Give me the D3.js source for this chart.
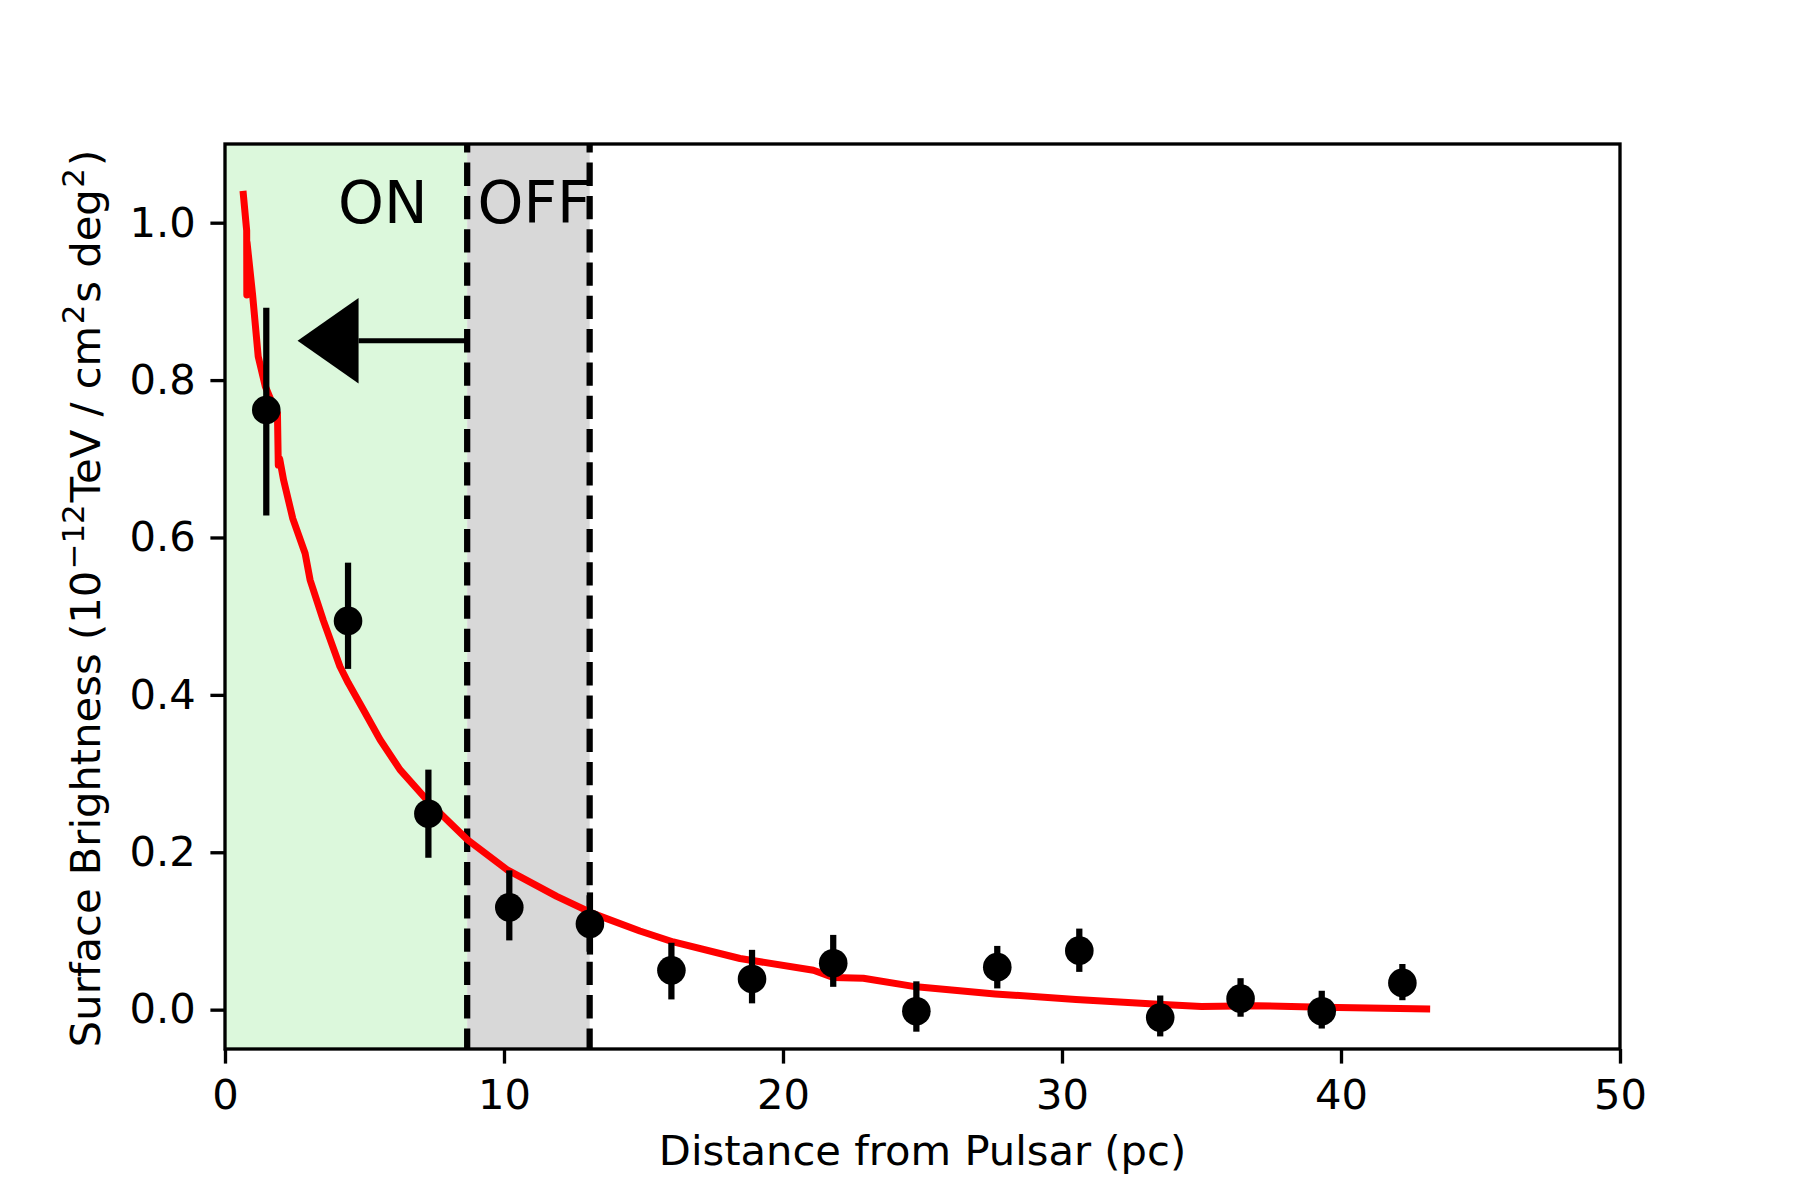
<!DOCTYPE html>
<html><head><meta charset="utf-8">
<script src="https://cdn.jsdelivr.net/npm/d3@7"></script>
<style>body{margin:0;background:#fff} text{font-family:"DejaVu Sans",sans-serif}</style>
</head><body><svg id="c" width="1800" height="1200" xmlns="http://www.w3.org/2000/svg"></svg>
<script>
// ---- data ----
const xTicks = [0, 10, 20, 30, 40, 50];
const yTicks = [0.0, 0.2, 0.4, 0.6, 0.8, 1.0];
const xDomain = [0, 50];
const yDomain = [-0.05, 1.1];

const ptX   = [1.48, 4.41, 7.29, 10.19, 13.08, 16.0, 18.89, 21.8, 24.78, 27.68, 30.62, 33.52, 36.4, 39.31, 42.2];
const ptY   = [0.762, 0.494, 0.249, 0.130, 0.109, 0.050, 0.039, 0.059, -0.002, 0.054, 0.075, -0.010, 0.014, -0.002, 0.034];
const errLo = [0.628, 0.433, 0.193, 0.088, 0.070, 0.013, 0.008, 0.029, -0.028, 0.027, 0.048, -0.034, -0.009, -0.024, 0.012];
const errHi = [0.892, 0.568, 0.305, 0.177, 0.149, 0.085, 0.076, 0.095, 0.036, 0.081, 0.103, 0.018, 0.040, 0.024, 0.058];

const curveX = [0.657, 0.777, 0.782, 0.79, 0.99, 1.19, 1.445, 1.70, 1.88, 1.91, 1.96, 2.10, 2.43, 2.87, 3.05, 3.52, 4.12, 4.42, 4.96, 5.56, 6.27, 7.35, 8.69, 10.10, 11.89, 13.2, 14.87, 16.07, 18.46, 21.09, 21.8, 22.88, 24.78, 27.6, 30.5, 33.45, 35.0, 37.0, 39.35, 43.07];
const curveY = [1.036, 0.990, 0.908, 0.975, 0.908, 0.830, 0.792, 0.770, 0.758, 0.692, 0.700, 0.673, 0.624, 0.580, 0.546, 0.495, 0.436, 0.415, 0.381, 0.343, 0.305, 0.262, 0.216, 0.178, 0.144, 0.122, 0.100, 0.086, 0.065, 0.050, 0.041, 0.040, 0.029, 0.020, 0.013, 0.007, 0.004, 0.005, 0.003, 0.001];

const regionEdges  = [0, 8.68, 13.07];
const regionLabels = ["ON", "OFF"];
const regionLabelX = [4.05, 9.05];
const regionLabelY = 1.0;
const arrowFrom = [8.68, 0.85];
const arrowTo   = [2.6, 0.85];

const xLabel = "Distance from Pulsar (pc)";

// ---- layout ----
const L = 225, R = 1620, T = 144, B = 1049;
const svg = d3.select("#c");
const x = d3.scaleLinear().domain(xDomain).range([L, R]);
const y = d3.scaleLinear().domain(yDomain).range([B, T]);

const regionColors = ["#dcf8dc", "#d8d8d8"];

// spans
svg.append("g").selectAll("rect").data(regionLabels).join("rect")
  .attr("x", (d, i) => x(regionEdges[i]))
  .attr("width", (d, i) => x(regionEdges[i + 1]) - x(regionEdges[i]))
  .attr("y", T).attr("height", B - T)
  .attr("fill", (d, i) => regionColors[i]);

// dashed lines
svg.append("g").selectAll("line").data(regionEdges.slice(1)).join("line")
  .attr("x1", d => x(d)).attr("x2", d => x(d))
  .attr("y1", B).attr("y2", T)
  .attr("stroke", "#000").attr("stroke-width", 6.25)
  .attr("stroke-dasharray", "23.3,10").attr("stroke-dashoffset", 2.7);

// red curve
const lineGen = d3.line().x(d => x(d[0])).y(d => y(d[1]));
svg.append("path")
  .datum(curveX.map((v, i) => [v, curveY[i]]))
  .attr("d", lineGen)
  .attr("fill", "none").attr("stroke", "#ff0000").attr("stroke-width", 7)
  .attr("stroke-linejoin", "round").attr("stroke-linecap", "square");

// error bars + markers
const pts = ptX.map((v, i) => ({x: v, y: ptY[i], lo: errLo[i], hi: errHi[i]}));
const gp = svg.append("g");
gp.selectAll("line").data(pts).join("line")
  .attr("x1", d => x(d.x)).attr("x2", d => x(d.x))
  .attr("y1", d => y(d.lo)).attr("y2", d => y(d.hi))
  .attr("stroke", "#000").attr("stroke-width", 6.25);
gp.selectAll("circle").data(pts).join("circle")
  .attr("cx", d => x(d.x)).attr("cy", d => y(d.y)).attr("r", 14.3)
  .attr("fill", "#000");

// arrow
const headLen = 61, headHalf = 42.8;
const ay = y(arrowFrom[1]);
const tipX = x(arrowTo[0]);
svg.append("line")
  .attr("x1", x(arrowFrom[0])).attr("x2", tipX + headLen)
  .attr("y1", ay).attr("y2", ay)
  .attr("stroke", "#000").attr("stroke-width", 5);
svg.append("path")
  .attr("d", `M${tipX},${ay} L${tipX + headLen},${ay - headHalf} L${tipX + headLen},${ay + headHalf} Z`)
  .attr("fill", "#000");

// region labels
svg.append("g").selectAll("text").data(regionLabels).join("text")
  .attr("x", (d, i) => x(regionLabelX[i])).attr("y", y(regionLabelY))
  .attr("font-size", 58.33).attr("fill", "#000")
  .text(d => d);

// axes
const fs = 41.67;
const xAxis = svg.append("g").attr("transform", `translate(0,${B})`)
  .call(d3.axisBottom(x).tickValues(xTicks).tickFormat(d3.format("d"))
    .tickSize(14.6).tickPadding(16).tickSizeOuter(0));
const yAxis = svg.append("g").attr("transform", `translate(${L},0)`)
  .call(d3.axisLeft(y).tickValues(yTicks).tickFormat(d3.format(".1f"))
    .tickSize(14.6).tickPadding(14.6).tickSizeOuter(0));
[xAxis, yAxis].forEach(g => {
  g.select(".domain").remove();
  g.selectAll(".tick line").attr("stroke", "#000").attr("stroke-width", 3.33);
  g.selectAll(".tick text").attr("font-size", fs).attr("fill", "#000")
    .attr("font-family", "DejaVu Sans");
});

// spines
svg.append("rect").attr("x", L).attr("y", T).attr("width", R - L).attr("height", B - T)
  .attr("fill", "none").attr("stroke", "#000").attr("stroke-width", 3.33);

// x label
svg.append("text").attr("x", (L + R) / 2).attr("y", 1165)
  .attr("text-anchor", "middle").attr("font-size", fs).attr("fill", "#000")
  .text(xLabel);

// y label with superscripts
const yl = svg.append("text")
  .attr("transform", `translate(100,${(T + B) / 2 + 2}) rotate(-90)`)
  .attr("text-anchor", "middle").attr("font-size", fs).attr("fill", "#000");
const parts = [
  ["Surface Brightness (10", false],
  ["\u221212", true],
  ["TeV / cm", false],
  ["2", true],
  ["s deg", false],
  ["2", true],
  [")", false]
];
let raised = false;
parts.forEach(([t, sup]) => {
  const ts = yl.append("tspan").text(t);
  if (sup) { ts.attr("font-size", fs * 0.74).attr("dy", -16).attr("dx", 1.5); raised = true; }
  else if (raised) { ts.attr("dy", 16).attr("dx", 2); raised = false; }
});
</script></body></html>
